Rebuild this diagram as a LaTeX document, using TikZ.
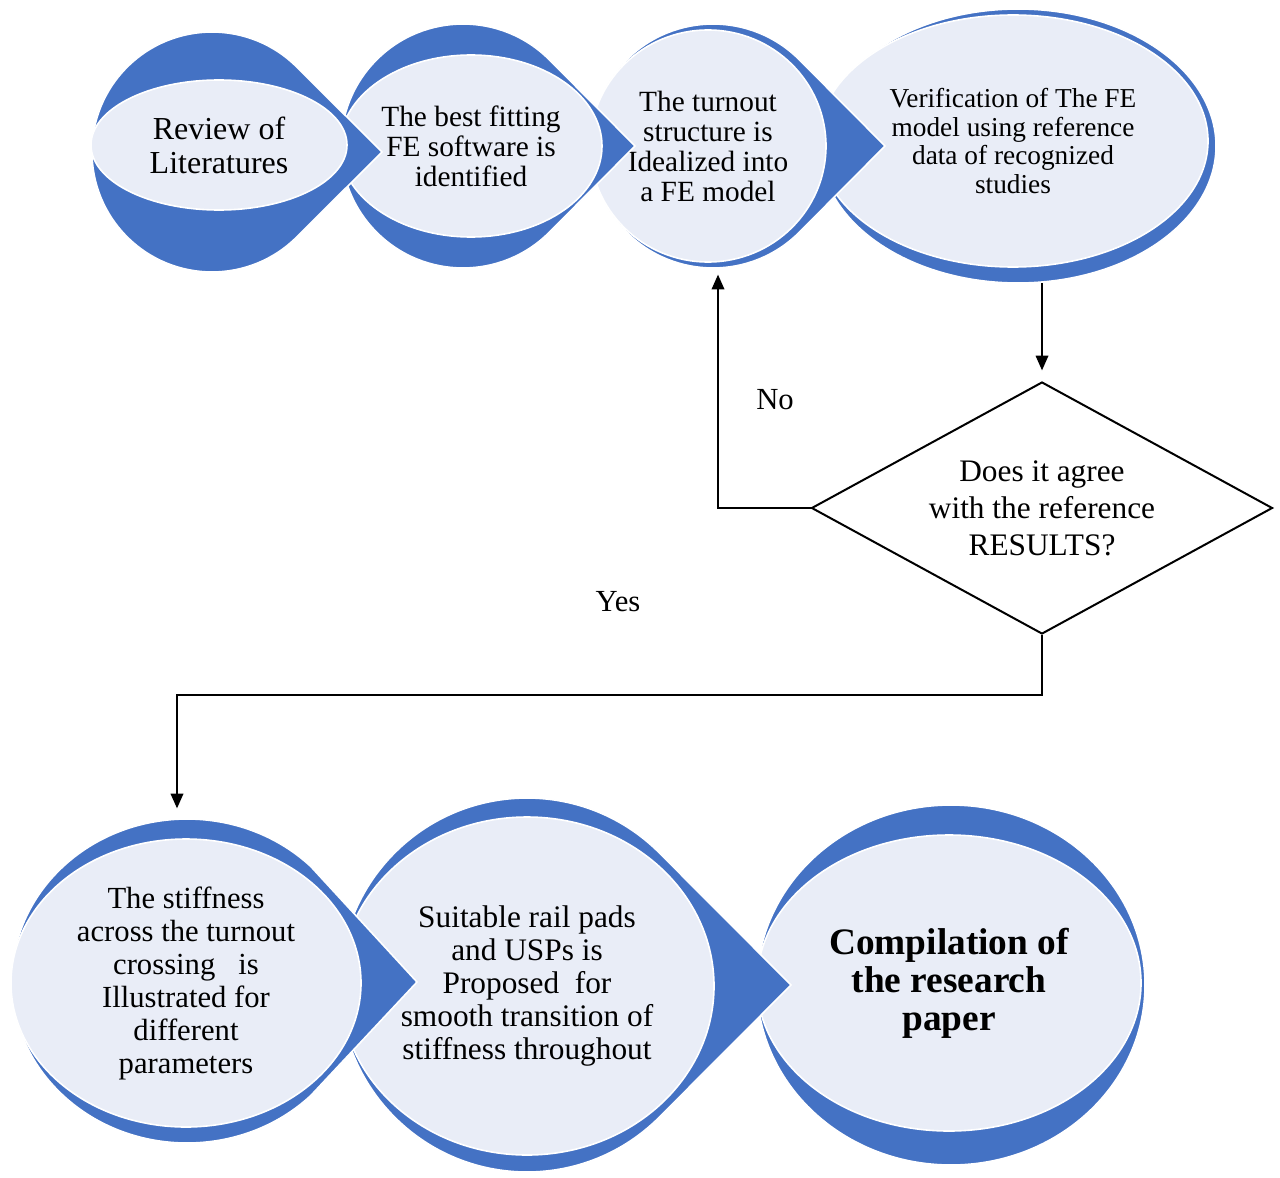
\documentclass[tikz,border=0pt]{standalone}
\usepackage{fontspec}
\setmainfont{Liberation Serif}
\usetikzlibrary{shapes.geometric,arrows.meta}
\definecolor{dropblue}{HTML}{4472C4}
\definecolor{droplight}{HTML}{E9EDF7}
\tikzset{
    dropshape/.style={fill=dropblue, draw=white, line width=1.2pt},
    bubble/.style={ellipse, fill=droplight, draw=white, line width=1.2pt, inner sep=0pt, align=center},
    flowline/.style={black, line width=1pt, -{Triangle[width=9.5pt,length=11pt]}},
    flowlabel/.style={font=\fontsize{23}{25}\selectfont},
}
\begin{document}
\begin{tikzpicture}[x=0.75pt,y=0.75pt]
    \useasboundingbox (0,0) rectangle (1280,-1177);
    % Top row, drawn from the right so every tip lies on the next bubble
    \path[dropshape] (1018,-146) ellipse [x radius=198, y radius=137];
    \node[bubble, minimum width=292.5pt, minimum height=189pt, font=\fontsize{20.5}{21.5}\selectfont] (verify) at (1013,-141)
        {Verification of The FE\\model using reference\\data of recognized\\studies};
    \path[dropshape] (713,-146) ++(45:122) arc[start angle=45, end angle=315, radius=122] -- (885,-146) -- cycle;
    \node[bubble, minimum width=177pt, minimum height=174pt, font=\fontsize{22}{22.5}\selectfont] (turnout) at (708,-146)
        {The turnout\\structure is\\Idealized into\\a FE model};
    \path[dropshape] (463,-146) ++(45:122) arc[start angle=45, end angle=315, radius=122] -- (635,-146) -- cycle;
    \node[bubble, minimum width=196.5pt, minimum height=136.5pt, font=\fontsize{22}{22.5}\selectfont] (software) at (471,-146)
        {The best fitting\\FE software is\\identified};
    \path[dropshape] (212,-152) ++(45:120) arc[start angle=45, end angle=315, radius=120] -- (382,-152) -- cycle;
    \node[bubble, minimum width=192pt, minimum height=97.5pt, font=\fontsize{24}{25.5}\selectfont] (review) at (219,-145)
        {Review of\\Literatures};
    % Check
    \node[diamond, draw, line width=1.5pt, aspect=1.83, inner sep=0pt, minimum width=345.75pt, minimum height=189pt,
        align=center, font=\fontsize{23.5}{27.75}\selectfont] (check) at (1042,-508)
        {Does it agree\\with the reference\\RESULTS?};
    % Bottom row
    \path[dropshape] (951,-985) ellipse [x radius=194, y radius=180];
    \node[bubble, minimum width=288pt, minimum height=222pt, font=\fontsize{28}{28.5}\selectfont\bfseries] (paper) at (949,-983)
        {Compilation of\\the research\\paper};
    \path[dropshape] (527,-985) ++(45:187) arc[start angle=45, end angle=315, radius=187] -- (791,-985) -- cycle;
    \node[bubble, minimum width=280.5pt, minimum height=253.5pt, font=\fontsize{23.5}{24.75}\selectfont] (pads) at (527,-986)
        {Suitable rail pads\\and USPs is\\Proposed\ \ for\\smooth transition of\\stiffness throughout};
    \path[dropshape] (187,-981) ++(45:175 and 162) arc[start angle=45, end angle=315, x radius=175, y radius=162] -- (417,-982) -- cycle;
    \node[bubble, minimum width=262.5pt, minimum height=216pt, font=\fontsize{23}{24.75}\selectfont] (stiffness) at (186,-983)
        {The stiffness\\across the turnout\\crossing\ \ \ is\\Illustrated for\\different\\parameters};
    % Connectors
    \coordinate (verifybase) at (1042,-283);
    \coordinate (turnbase) at (718,-268);
    \coordinate (stiffbase) at (177,-819);
    \draw[flowline, shorten >=8pt] (verifybase) -- (check.north);
    \draw[flowline, shorten >=5pt] (check.west) -| (turnbase);
    \draw[flowline, shorten >=8pt] (check.south) -- ++(0,-60) -| (stiffbase);
    \node[flowlabel] (no) at (775,-400) {No};
    \node[flowlabel] (yes) at (618,-602) {Yes};
\end{tikzpicture}
\end{document}
